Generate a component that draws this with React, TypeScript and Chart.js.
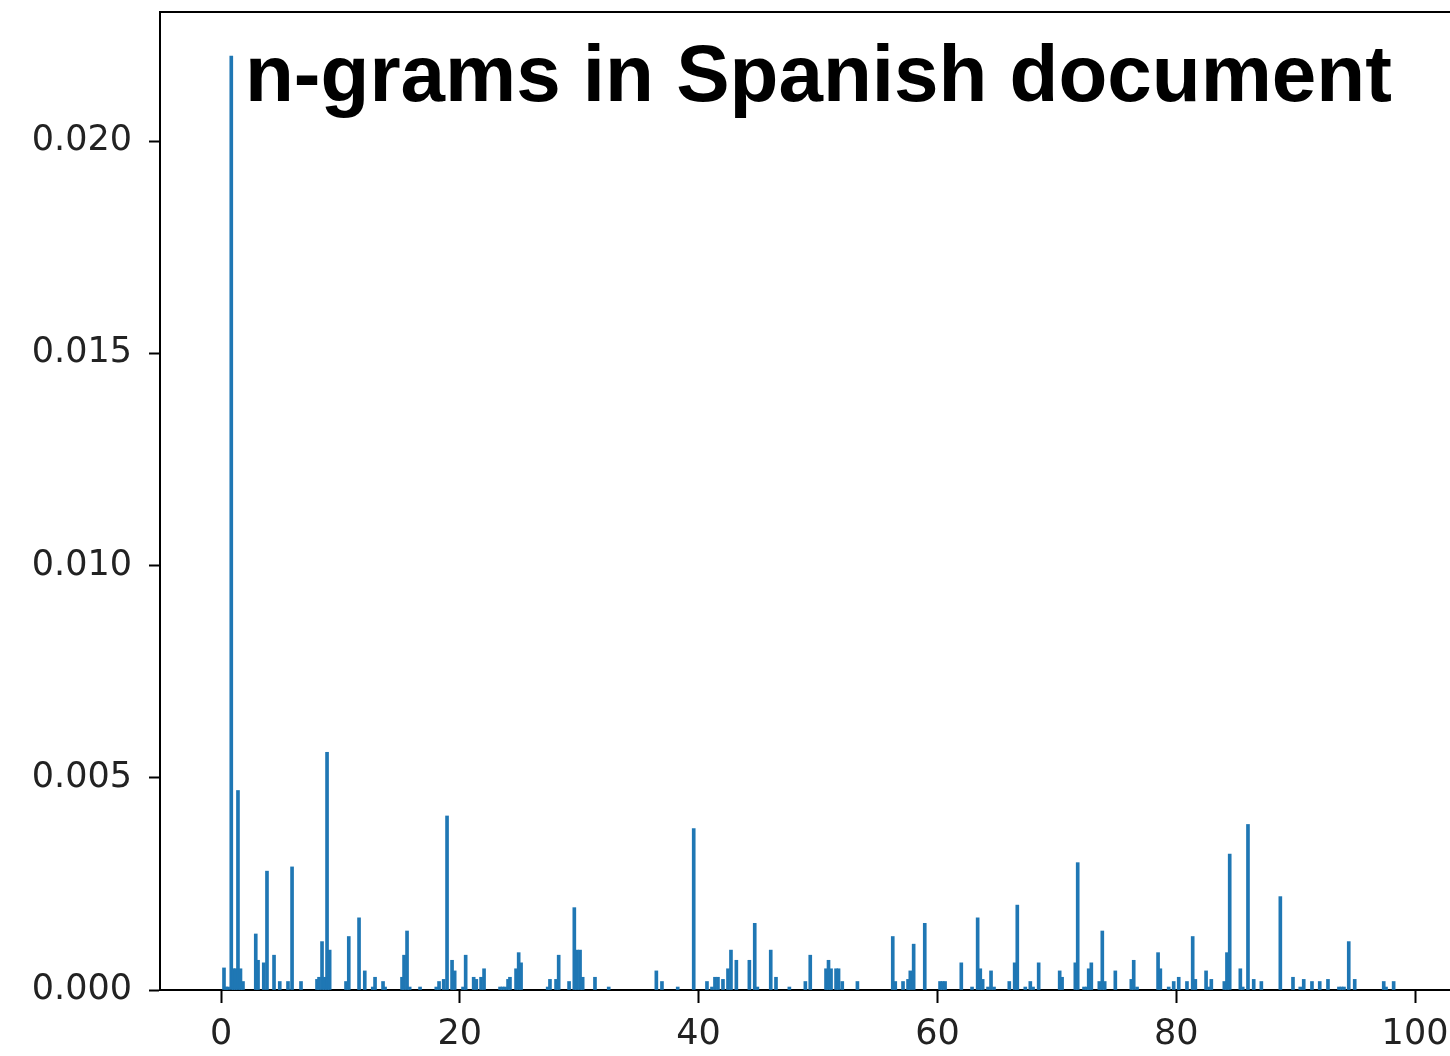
import { useEffect, useRef } from "react";
import { Chart, registerables } from "chart.js";

Chart.register(...registerables);

// n-gram position (x) and relative frequency (y)
const ngramPositions = [
  0.25, 0.42, 0.59, 0.86, 1.05, 1.21, 1.42, 1.63, 1.84, 2.91, 3.1, 3.58, 3.85, 4.44, 4.92, 5.61, 5.95, 6.7,
  8.04, 8.21, 8.46, 8.68, 8.88, 9.1, 10.47, 10.7, 11.56, 12.04, 12.71, 12.9, 13.57, 13.74, 15.16, 15.33, 15.58,
  15.8, 16.67, 18.03, 18.26, 18.65, 18.93, 19.35, 19.57, 20.27, 20.49, 21.16, 21.38, 21.78, 22.03, 23.37, 23.58,
  23.79, 24.04, 24.2, 24.71, 24.93, 25.13, 27.36, 27.55, 28.06, 28.28, 29.15, 29.59, 29.82, 30.07, 30.29, 31.32,
  32.47, 36.46, 36.93, 38.25, 39.59, 40.7, 41.12, 41.37, 41.62, 42.04, 42.46, 42.71, 43.16, 44.25, 44.7, 44.92,
  46.04, 46.48, 47.6, 48.94, 49.35, 50.67, 50.88, 51.09, 51.51, 51.72, 52.03, 53.3, 56.26, 56.47, 57.12, 57.54,
  57.73, 58.01, 58.94, 60.22, 60.43, 60.64, 62.0, 62.9, 63.37, 63.59, 63.79, 64.24, 64.49, 64.74, 66.02, 66.47,
  66.69, 67.36, 67.78, 68.01, 68.48, 70.24, 70.44, 71.55, 71.75, 72.28, 72.53, 72.67, 72.89, 73.56, 73.81, 74.01,
  74.9, 76.24, 76.44, 76.72, 78.48, 78.67, 79.37, 79.79, 80.21, 80.9, 81.38, 81.6, 82.5, 82.72, 82.94, 84.03,
  84.25, 84.48, 85.37, 85.57, 86.01, 86.49, 87.13, 88.72, 89.78, 90.39, 90.68, 91.37, 92.02, 92.71, 93.63, 93.84,
  94.05, 94.45, 94.95, 97.38, 97.57, 98.21,
];

const ngramFrequencies = [
  0.00052, 0.00007, 0.00007, 0.022, 0.0005, 0.0005, 0.0047, 0.0005, 0.0002, 0.00132, 0.0007, 0.00064, 0.0028,
  0.00082, 0.0002, 0.0002, 0.0029, 0.0002, 0.00025, 0.0003, 0.00114, 0.0003, 0.0056, 0.00094, 0.0002, 0.00126,
  0.0017, 0.00045, 0.00007, 0.0003, 0.0002, 0.00007, 0.0003, 0.00082, 0.00139, 0.00007, 0.00007, 0.00007, 0.0002,
  0.00025, 0.0041, 0.0007, 0.00045, 0.00007, 0.00082, 0.0003, 0.00025, 0.0003, 0.0005, 0.00007, 0.00007, 0.00007,
  0.00025, 0.0003, 0.0005, 0.00088, 0.00064, 0.00007, 0.00025, 0.00025, 0.00082, 0.0002, 0.00194, 0.00094,
  0.00094, 0.0003, 0.0003, 0.00007, 0.00045, 0.0002, 0.00007, 0.0038, 0.0002, 0.00007, 0.0003, 0.0003, 0.00025,
  0.0005, 0.00094, 0.0007, 0.0007, 0.00157, 0.00007, 0.00094, 0.0003, 0.00007, 0.0002, 0.00082, 0.0005, 0.0007,
  0.0005, 0.0005, 0.0005, 0.0002, 0.0002, 0.00126, 0.0002, 0.0002, 0.00025, 0.00045, 0.00108, 0.00157, 0.0002,
  0.0002, 0.0002, 0.00064, 0.00007, 0.0017, 0.0005, 0.00025, 0.00007, 0.00045, 0.00007, 0.0002, 0.00064, 0.002,
  0.00007, 0.0002, 0.00007, 0.00064, 0.00045, 0.0003, 0.00064, 0.003, 0.00007, 0.00007, 0.0005, 0.00064, 0.0002,
  0.00139, 0.0002, 0.00045, 0.00025, 0.0007, 0.00007, 0.00088, 0.0005, 0.00007, 0.0002, 0.0003, 0.0002, 0.00126,
  0.00025, 0.00045, 0.00007, 0.00025, 0.0002, 0.00088, 0.0032, 0.0005, 0.00007, 0.0039, 0.00025, 0.0002, 0.0022,
  0.0003, 0.00007, 0.00025, 0.0002, 0.0002, 0.00025, 0.00007, 0.00007, 0.00007, 0.00114, 0.00025, 0.0002,
  0.00007, 0.0002,
];

const xTickValues = [0, 20, 40, 60, 80, 100];
const yTickValues = [0, 0.005, 0.01, 0.015, 0.02];
const chartTitle = "n-grams in Spanish document";

export default function App() {
  const canvasRef = useRef<HTMLCanvasElement>(null);

  useEffect(() => {
    if (!canvasRef.current) return;
    const points = ngramPositions.map((x, i) => ({ x, y: ngramFrequencies[i] }));

    const framePlugin = {
      id: "frameAndTitle",
      afterDraw(chart: any) {
        const { ctx, chartArea } = chart;
        ctx.save();
        ctx.strokeStyle = "#000";
        ctx.lineWidth = 2;
        ctx.beginPath();
        ctx.moveTo(chartArea.left - 1, chartArea.top);
        ctx.lineTo(chartArea.right + 2, chartArea.top);
        ctx.stroke();
        ctx.font = 'bold 80px "Liberation Sans", Arial, sans-serif';
        ctx.fillStyle = "#000";
        ctx.textBaseline = "alphabetic";
        ctx.textAlign = "left";
        ctx.fillText(chartTitle, chartArea.left + 85, chartArea.top + 89);
        ctx.restore();
      },
    };

    const tickFont = { family: '"DejaVu Sans", sans-serif', size: 35 };

    const chart = new Chart(canvasRef.current, {
      type: "bar",
      data: {
        datasets: [
          {
            data: points as any,
            backgroundColor: "#1f77b4",
            borderWidth: 0,
            barThickness: 3,
            grouped: false,
          } as any,
        ],
      },
      options: {
        animation: false,
        responsive: true,
        maintainAspectRatio: false,
        layout: { padding: { top: 12, left: 0, right: 0, bottom: 0 } },
        plugins: { legend: { display: false }, tooltip: { enabled: false } },
        scales: {
          x: {
            type: "linear",
            offset: false,
            min: -5.11,
            max: 102.93,
            afterFit: (scale: any) => {
              scale.height = 66;
              scale.paddingLeft = 0;
              scale.paddingRight = 0;
            },
            afterBuildTicks: (scale: any) => {
              scale.ticks = xTickValues.map((v) => ({ value: v }));
            },
            ticks: {
              font: tickFont,
              color: "#222",
              padding: 11,
              maxRotation: 0,
              autoSkip: false,
              callback: (v: any) => String(v),
            },
            grid: {
              display: true,
              offset: false,
              drawOnChartArea: false,
              drawTicks: true,
              tickLength: 13,
              tickWidth: 2,
              tickColor: "#000",
            },
            border: { display: true, color: "#000", width: 2 },
          },
          y: {
            type: "linear",
            min: 0,
            max: 0.02304,
            afterFit: (scale: any) => {
              scale.width = 160;
              scale.paddingTop = 0;
              scale.paddingBottom = 0;
            },
            afterBuildTicks: (scale: any) => {
              scale.ticks = yTickValues.map((v) => ({ value: v }));
            },
            ticks: {
              font: tickFont,
              color: "#222",
              padding: 17,
              autoSkip: false,
              callback: (v: any) => Number(v).toFixed(3),
            },
            grid: {
              display: true,
              offset: false,
              drawOnChartArea: false,
              drawTicks: true,
              tickLength: 11,
              tickWidth: 2,
              tickColor: "#000",
            },
            border: { display: true, color: "#000", width: 2 },
          },
        },
      },
      plugins: [framePlugin],
    });

    return () => chart.destroy();
  }, []);

  return (
    <div
      style={{
        position: "absolute",
        left: 0,
        top: 0,
        width: 1450,
        height: 1056,
        overflow: "hidden",
        background: "#fff",
      }}
    >
      <canvas ref={canvasRef} />
    </div>
  );
}
